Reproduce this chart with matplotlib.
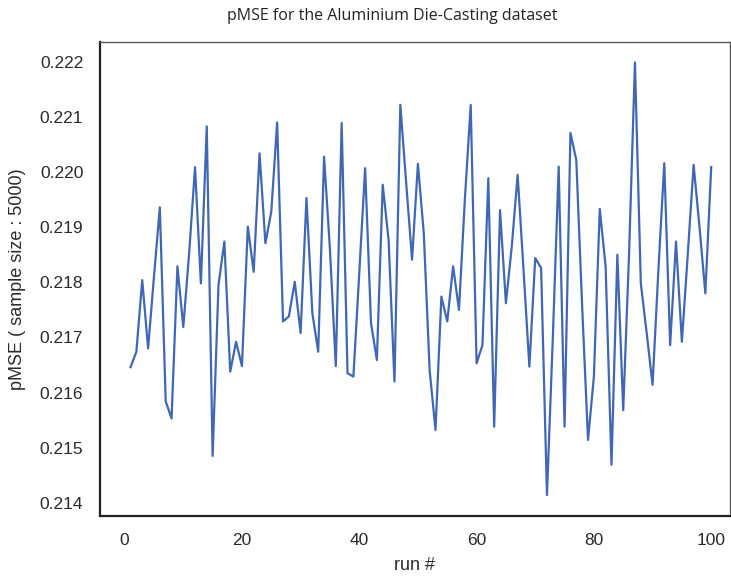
import numpy as np
import matplotlib.pyplot as plt

# pMSE per run
runs = np.arange(1, 101)
pmse = [
    0.21646, 0.21674, 0.21804, 0.21680, 0.21810, 0.21936, 0.21584, 0.21553, 0.21829, 0.21719,
    0.21853, 0.22009, 0.21798, 0.22083, 0.21485, 0.21795, 0.21874, 0.21638, 0.21692, 0.21648,
    0.21901, 0.21819, 0.22034, 0.21871, 0.21928, 0.22090, 0.21729, 0.21738, 0.21801, 0.21708,
    0.21953, 0.21744, 0.21674, 0.22028, 0.21860, 0.21648, 0.22089, 0.21635, 0.21629, 0.21817,
    0.22007, 0.21726, 0.21659, 0.21977, 0.21877, 0.21620, 0.22122, 0.21980, 0.21841, 0.22015,
    0.21889, 0.21640, 0.21532, 0.21774, 0.21729, 0.21829, 0.21750, 0.21950, 0.22122, 0.21653,
    0.21686, 0.21989, 0.21538, 0.21931, 0.21762, 0.21865, 0.21995, 0.21823, 0.21647, 0.21844,
    0.21826, 0.21414, 0.21700, 0.22010, 0.21538, 0.22071, 0.22022, 0.21756, 0.21514, 0.21629,
    0.21933, 0.21829, 0.21469, 0.21850, 0.21568, 0.21853, 0.22199, 0.21798, 0.21708, 0.21614,
    0.21823, 0.22016, 0.21686, 0.21874, 0.21692, 0.21850, 0.22013, 0.21901, 0.21780, 0.22009,
]
xticks = [0, 20, 40, 60, 80, 100]
yticks = [0.214, 0.215, 0.216, 0.217, 0.218, 0.219, 0.220, 0.221, 0.222]

plt.rcParams['font.family'] = ['Liberation Sans', 'DejaVu Sans']

fig = plt.figure(figsize=(7.31, 5.78), dpi=100)
ax = fig.add_axes([0.1368, 0.1073, 0.8618, 0.8200])

ax.plot(runs, pmse, color='#3f67b3', linewidth=1.6)

ax.set_xlim(-4.2, 103.2)
ax.set_ylim(0.21376, 0.22236)
ax.set_xticks(xticks)
ax.set_yticks(yticks)
ax.set_yticklabels(['%.3f' % v for v in yticks])
ax.tick_params(length=0, labelsize=12.5, pad=12, colors='#2a2a2a')

for side in ['left', 'bottom']:
    ax.spines[side].set_linewidth(1.6)
    ax.spines[side].set_color('#222222')
for side in ['top', 'right']:
    ax.spines[side].set_linewidth(1.0)
    ax.spines[side].set_color('#555555')

ax.set_xlabel('run #', fontsize=13, color='#2a2a2a', labelpad=7)
ax.set_ylabel('pMSE ( sample size : 5000)', fontsize=13, color='#2a2a2a', labelpad=10)

fig.text(0.536, 0.972, 'pMSE for the Aluminium Die-Casting dataset',
         ha='center', va='center', fontsize=11.5, family=['Open Sans', 'DejaVu Sans'],
         color='#222222')

fig.savefig('out.png', dpi=100)
